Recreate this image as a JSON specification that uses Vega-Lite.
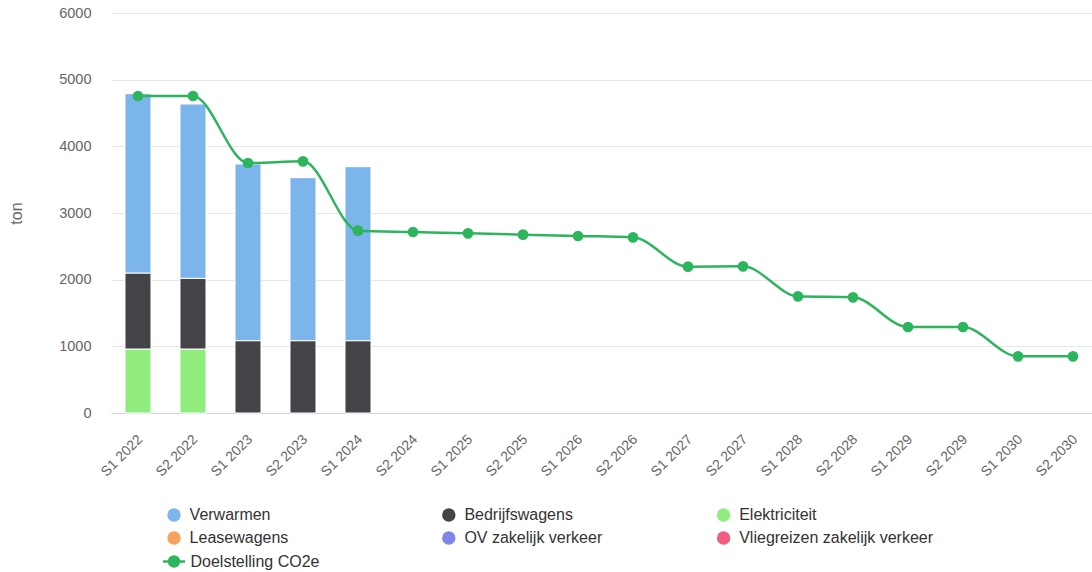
{
  "$schema": "https://vega.github.io/schema/vega-lite/v6.json",
  "width": 981,
  "height": 400,
  "autosize": {"type": "none"},
  "padding": {"left": 111, "top": 13, "right": 0, "bottom": 159},
  "background": "#ffffff",
  "config": {
    "view": {"stroke": null},
    "font": "Liberation Sans",
    "legend": {"labelFont": "Liberation Sans", "labelFontSize": 16, "labelColor": "#333333", "labelLimit": 400, "title": null}
  },
  "datasets": {
    "uitstoot": [
      {"periode": "S1 2022", "categorie": "Elektriciteit", "ton": 960},
      {"periode": "S1 2022", "categorie": "Bedrijfswagens", "ton": 1140},
      {"periode": "S1 2022", "categorie": "Verwarmen", "ton": 2690},
      {"periode": "S2 2022", "categorie": "Elektriciteit", "ton": 960},
      {"periode": "S2 2022", "categorie": "Bedrijfswagens", "ton": 1060},
      {"periode": "S2 2022", "categorie": "Verwarmen", "ton": 2615},
      {"periode": "S1 2023", "categorie": "Bedrijfswagens", "ton": 1085},
      {"periode": "S1 2023", "categorie": "Verwarmen", "ton": 2650},
      {"periode": "S2 2023", "categorie": "Bedrijfswagens", "ton": 1085},
      {"periode": "S2 2023", "categorie": "Verwarmen", "ton": 2445},
      {"periode": "S1 2024", "categorie": "Bedrijfswagens", "ton": 1085},
      {"periode": "S1 2024", "categorie": "Verwarmen", "ton": 2610}
    ],
    "doel": [
      {"periode": "S1 2022", "reeks": "Doelstelling CO2e", "ton": 4755},
      {"periode": "S2 2022", "reeks": "Doelstelling CO2e", "ton": 4755},
      {"periode": "S1 2023", "reeks": "Doelstelling CO2e", "ton": 3750},
      {"periode": "S2 2023", "reeks": "Doelstelling CO2e", "ton": 3775},
      {"periode": "S1 2024", "reeks": "Doelstelling CO2e", "ton": 2735},
      {"periode": "S2 2024", "reeks": "Doelstelling CO2e", "ton": 2715},
      {"periode": "S1 2025", "reeks": "Doelstelling CO2e", "ton": 2695},
      {"periode": "S2 2025", "reeks": "Doelstelling CO2e", "ton": 2675},
      {"periode": "S1 2026", "reeks": "Doelstelling CO2e", "ton": 2655},
      {"periode": "S2 2026", "reeks": "Doelstelling CO2e", "ton": 2635},
      {"periode": "S1 2027", "reeks": "Doelstelling CO2e", "ton": 2195},
      {"periode": "S2 2027", "reeks": "Doelstelling CO2e", "ton": 2200},
      {"periode": "S1 2028", "reeks": "Doelstelling CO2e", "ton": 1750},
      {"periode": "S2 2028", "reeks": "Doelstelling CO2e", "ton": 1735},
      {"periode": "S1 2029", "reeks": "Doelstelling CO2e", "ton": 1290},
      {"periode": "S2 2029", "reeks": "Doelstelling CO2e", "ton": 1290},
      {"periode": "S1 2030", "reeks": "Doelstelling CO2e", "ton": 850},
      {"periode": "S2 2030", "reeks": "Doelstelling CO2e", "ton": 850}
    ]
  },
  "encoding": {
    "x": {
      "field": "periode",
      "type": "ordinal",
      "sort": ["S1 2022", "S2 2022", "S1 2023", "S2 2023", "S1 2024", "S2 2024", "S1 2025", "S2 2025", "S1 2026", "S2 2026", "S1 2027", "S2 2027", "S1 2028", "S2 2028", "S1 2029", "S2 2029", "S1 2030", "S2 2030"],
      "scale": {"type": "point", "padding": 0.418, "align": 0.587},
      "axis": {
        "title": null,
        "domainColor": "#ccd6eb",
        "domainWidth": 1,
        "ticks": false,
        "grid": false,
        "labelAngle": -45,
        "labelAlign": "right",
        "labelBaseline": "middle",
        "labelPadding": 24,
        "labelOffset": 2,
        "labelFont": "Liberation Sans",
        "labelFontSize": 14,
        "labelColor": "#666666"
      }
    },
    "y": {
      "field": "ton",
      "type": "quantitative",
      "scale": {"domain": [0, 6000], "nice": false},
      "axis": {
        "title": "ton",
        "values": [0, 1000, 2000, 3000, 4000, 5000, 6000],
        "format": "d",
        "domain": false,
        "ticks": false,
        "gridColor": "#e6e6e6",
        "labelPadding": 20,
        "labelFont": "Liberation Sans",
        "labelFontSize": 14.5,
        "labelColor": "#666666",
        "titleFont": "Liberation Sans",
        "titleFontSize": 16,
        "titleFontWeight": "normal",
        "titleColor": "#666666",
        "titleX": -95,
        "titleY": 200,
        "titleAlign": "center",
        "titleBaseline": "middle"
      }
    }
  },
  "layer": [
    {
      "data": {"name": "uitstoot"},
      "transform": [
        {"calculate": "indexof(['Elektriciteit', 'Bedrijfswagens', 'Verwarmen'], datum.categorie)", "as": "stapel"}
      ],
      "mark": {"type": "bar", "width": 26, "stroke": "#ffffff", "strokeWidth": 1},
      "encoding": {
        "y": {"field": "ton", "type": "quantitative", "stack": "zero"},
        "order": {"field": "stapel", "type": "quantitative"},
        "color": {
          "field": "categorie",
          "type": "nominal",
          "scale": {
            "domain": ["Verwarmen", "Leasewagens", "Bedrijfswagens", "OV zakelijk verkeer", "Elektriciteit", "Vliegreizen zakelijk verkeer"],
            "range": ["#7cb5ec", "#f7a35c", "#434348", "#8085e9", "#90ed7d", "#f15c80"]
          },
          "legend": {
            "orient": "none",
            "legendX": 55,
            "legendY": 494,
            "columns": 3,
            "gridAlign": "all",
            "columnPadding": 56.8,
            "rowPadding": 7,
            "symbolType": "circle",
            "symbolSize": 180,
            "symbolStrokeWidth": 0,
            "labelOffset": 7.6
          }
        }
      }
    },
    {
      "data": {"name": "doel"},
      "mark": {"type": "line", "interpolate": "monotone", "strokeWidth": 2.5},
      "encoding": {
        "stroke": {
          "field": "reeks",
          "type": "nominal",
          "scale": {"range": ["#2db55d"]},
          "legend": {
            "orient": "none",
            "legendX": 50.5,
            "legendY": 536,
            "symbolType": "M-1,0L1,0M0.45,0A0.45,0.45,0,1,1,-0.45,0A0.45,0.45,0,1,1,0.45,0Z",
            "symbolSize": 484,
            "symbolStrokeWidth": 2.5,
            "symbolFillColor": "#2db55d",
            "labelOffset": 4,
            "encode": {"symbols": {"update": {"fill": {"value": "#2db55d"}}}}
          }
        }
      }
    },
    {
      "data": {"name": "doel"},
      "mark": {"type": "point", "filled": true, "size": 115, "opacity": 1, "color": "#2db55d"}
    }
  ]
}
